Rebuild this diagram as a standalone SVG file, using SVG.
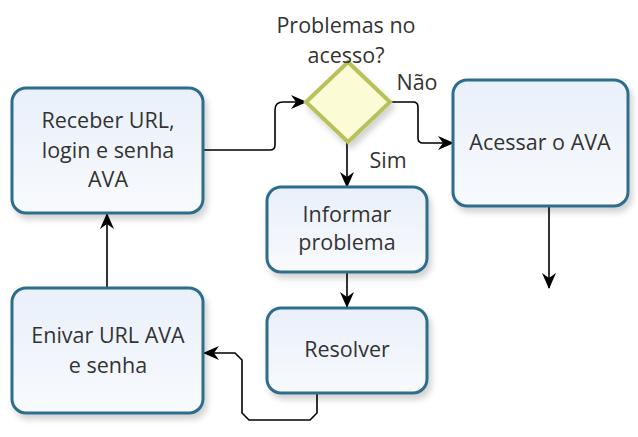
<svg xmlns="http://www.w3.org/2000/svg" width="638" height="437" viewBox="0 0 638 437">
<defs>
<linearGradient id="g" x1="0" y1="0" x2="0" y2="1"><stop offset="0" stop-color="#e9f0fa"/><stop offset="1" stop-color="#f8fafd"/></linearGradient>
<filter id="sh" x="-10%" y="-10%" width="130%" height="140%"><feGaussianBlur in="SourceAlpha" stdDeviation="3"/><feOffset dx="3" dy="5"/><feComponentTransfer><feFuncA type="linear" slope="0.18"/></feComponentTransfer><feMerge><feMergeNode/><feMergeNode in="SourceGraphic"/></feMerge></filter>
<marker id="a" viewBox="0 0 16 14" refX="15" refY="7" markerWidth="16" markerHeight="14" markerUnits="userSpaceOnUse" orient="auto"><path d="M0,0 L16,7 L0,14 L5,7 z" fill="#000"/></marker>
<style>
.box{fill:url(#g);stroke:#2d6d8c;stroke-width:3;filter:url(#sh)}
.t{font-family:"Open Sans","Noto Sans",sans-serif;font-size:21.5px;fill:#333;text-anchor:middle}
.c{fill:none;stroke:#000;stroke-width:1.6;marker-end:url(#a)}
</style>
</defs>
<g id="connectors">
<path class="c" d="M203,150 L270,150 Q275,150 275,145 L275,110 Q275,102 283,102 L306,102"/>
<path class="c" d="M390,102 L413,102 Q418,102 418,107 L418,138 Q418,143 423,143 L453,143"/>
<path class="c" d="M347,142 L347,187"/>
<path class="c" d="M347,272 L347,307"/>
<path class="c" d="M549,207 L549,288"/>
<path class="c" d="M317,393 L317,413 L310,420 L249,420 L242,413 L242,360 L235,353 L204,353"/>
<path class="c" d="M107,288 L107,214"/>
</g>
<g id="receber"><rect class="box" x="12" y="88" width="191" height="125" rx="14"/>
<text class="t" x="108" y="128">Receber URL,</text><text class="t" x="108" y="158">login e senha</text><text class="t" x="108" y="187">AVA</text></g>
<g id="enviar"><rect class="box" x="12" y="288" width="191" height="125" rx="14"/>
<text class="t" x="108" y="343">Enivar URL AVA</text><text class="t" x="108" y="373">e senha</text></g>
<g id="decisao"><path d="M348,62 L390,102 L348,142 L306,102 Z" fill="#fbfbd6" stroke="#b9c25a" stroke-width="4" filter="url(#sh)"/>
<text class="t" x="346" y="33">Problemas no</text><text class="t" x="346" y="63">acesso?</text>
<text class="t" x="417" y="90">Não</text><text class="t" x="388" y="168">Sim</text></g>
<g id="acessar"><rect class="box" x="453" y="80" width="175" height="126" rx="14"/>
<text class="t" x="540" y="150">Acessar o AVA</text></g>
<g id="informar"><rect class="box" x="267" y="187" width="160" height="85" rx="14"/>
<text class="t" x="347" y="222">Informar</text><text class="t" x="347" y="250">problema</text></g>
<g id="resolver"><rect class="box" x="267" y="308" width="160" height="85" rx="14"/>
<text class="t" x="347" y="357">Resolver</text></g>
</svg>
